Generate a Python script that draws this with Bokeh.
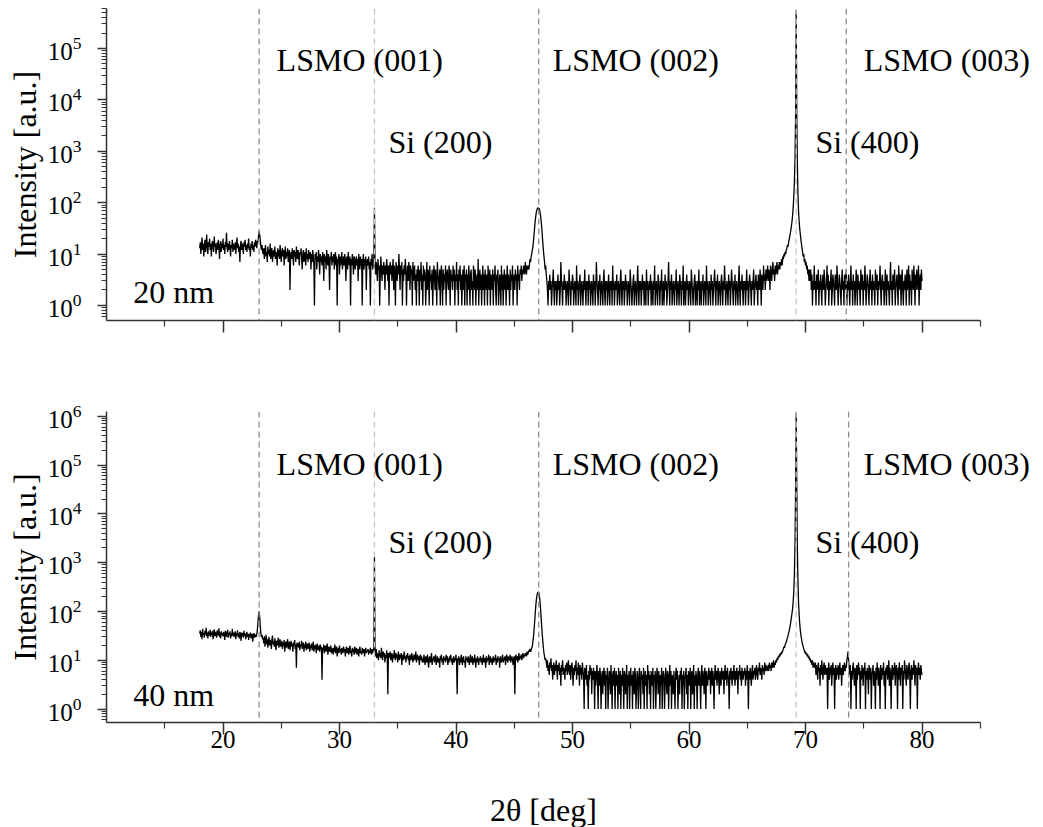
import numpy as np
from bokeh.plotting import figure
from bokeh.layouts import column
from bokeh.models import Span, Label, FixedTicker, LogTickFormatter, Range1d
from bokeh.embed import file_html
from bokeh.resources import INLINE

FONT = "Liberation Serif"
STEP = 0.05   # angular step of the tabulated intensities (deg)

# ---------------- 20 nm film: (start angle, intensities every 0.05 deg) ----------------
t20_a = (18.00, [13,17,10,15,21,12,16,9,14,19,11,15,24,13,10,17,14,20,12,16,
                 9,15,18,13,11,22,14,16,10,13,17,12,19,15,8,14,18,11,16,13,
                 20,12,15,10,17,14,26,13,11,16,12,18,14,9,15,13,19,11,16,14,
                 12,17,10,15,21,13,16,11,14,7,15,18,12,16,13,10,17,14,19,12,
                 15,11,16,13,20,12,14,9,16,13,18,12,15,11,17,14,19,16,13,18])
t20_lsmo001 = (23.00, [17,22,28,24,19,14,12,15,11])
t20_b = (23.45, [10,13,8,12,15,9,11,7,14,10,12,9,16,8,11,13,7,10,12,9,
                 14,8,11,10,6,13,9,12,8,15,10,7,11,13,9,12,6,10,14,8,
                 11,9,13,7,10,12,2,9,11,8,13,10,6,12,9,11,7,14,10,8,
                 12,9,6,11,10,13,8,5,10,12,7,9,11,6,13,8,10,7,12,9,
                 8,11,5,10,7,12,9,6,1,10,8,11,5,9,7,12,8,4,10,7,
                 9,6,11,8,3,10,7,9,5,12,8,6,10,7,2,9,8,11,6,9,
                 7,10,5,8,11,6,9,1,8,7,10,4,9,6,8,11,5,7,9,6,
                 10,7,3,8,9,5,11,7,6,9,1,8,6,10,7,4,9,8,5,7,
                 9,6,8,3,10,7,5,9,6,8,1,7,10,5,8,6,9,2,7,8,
                 6,9,5,7,1,8,6,10,5,7,8])
t20_si200 = (33.00, [80])
t20_c = (33.05, [6,4,7,5,3,8,5,6,1,4,9,5,3,6,4,7,5,2,6,4,
                 8,5,3,6,1,5,7,4,6,3,5,8,2,6,4,1,7,5,3,6,
                 4,10,5,2,6,4,7,1,5,3,6,4,8,5,1,4,6,3,7,5,
                 2,6,4,5,1,7,3,5,6,2,4,1,5,3,6,4,1,5,3,7,
                 2,4,1,6,3,5,4,1,3,7,2,5,4,1,6,3,4,2,5,1,
                 3,6,4,2,5,3,1,7,4,3,2,5,1,4,6,3,1,5,2,4,
                 3,6,1,4,5,3,2,6,4,1,5,3,4,2,6,3,5,1,4,3,
                 7,2,4,1,5,3,6,2,4,1,3,5,2,6,1,4,3,5,1,4,
                 2,6,3,1,4,5,2,3,1,6,4,2,5,1,3,4,2,8,1,3,
                 5,2,4,1,3,6,2,4,1,5,3,2,4,1,6,3,2,5,1,4,
                 3,2,5,1,4,3,6,2,1,4,3,5,1,2,4,3,1,6,2,4,
                 1,3,5,2,4,1,3,6,2,4,3,1,5,2,4,3,6,1,3,4,
                 2,5,3,4,1,6,3,4,2,5,4,6,3,5,4,6,5,4,7,5,
                 4,6,5,6,5])
t20_lsmo002 = (46.30, [6,8,7,9,10,12,14,18,24,33,45,55,66,72,78,80,74,78,68,58,
                       46,35,24,17,12,9,7,5,6,4])
t20_d = (47.80, [3,2,1,3,2,4,2,3,1,2,3,5,2,1,3,2,3,1,2,4,
                 2,3,1,2,7,3,2,1,3,2,4,2,3,1,2,3,2,1,5,3,
                 2,1,3,2,4,3,1,2,3,2,1,6,2,3,1,2,3,4,1,2,
                 3,2,1,3,2,5,2,1,3,2,3,1,4,2,3,1,2,3,2,1,
                 4,2,3,1,2,7,3,2,1,3,2,4,1,2,3,2,1,3,5,2,
                 1,3,2,3,1,2,4,2,1,3,2,3,1,6,2,3,1,2,3,2,
                 4,1,2,3,2,1,3,5,2,1,3,2,3,1,2,4,2,3,1,2,
                 3,2,1,5,3,2,1,2,3,4,1,2,3,2,1,3,6,2,1,3,
                 2,3,1,2,4,2,3,1,3,2,1,5,2,3,1,2,3,2,4,1,
                 3,2,1,3,2,6,1,2,3,2,1,4,3,2,1,3,2,5,1,2,
                 3,1,2,4,2,3,1,2,3,7,2,1,3,2,4,1,2,3,2,1,
                 3,2,5,1,2,3,2,1,4,3,2,1,3,2,6,1,2,3,1,2,
                 4,2,3,1,2,3,2,1,5,3,2,1,2,3,4,1,3,2,1,3,
                 2,5,1,3,2,1,3,2,4,1,2,3,2,1,6,2,3,1,2,3,
                 2,1,4,2,3,1,2,3,5,2,1,3,2,4,1,2,3,2,1,3,
                 4,2,1,3,2,6,3,1,2,3,2,1,4,2,3,1,2,5,3,2,
                 1,3,2,4,1,2,3,2,1,3,6,2,1,3,2,4,2,1,3,2,
                 3,1,2,5,2,3,1,2,4,3,2,1,3,2,3,5,1,2,3,4,
                 2,3,1,4,3,2,5,3,1,4,3,2,6,3,4,2,5,3,4,6,
                 3,5,4,2,6,4,3,5,7,4,5,3,6,4,5,7,4,6,5,7])
t20_si400_left = (67.80, [5,7,6,8,6,9,8,10,9,11,10,12,13,15,14,17,19,22,26,30,
                          36,45,60,85,140,260,700,5000])
t20_si400 = (69.20, [550000])
t20_si400_right = (69.25, [6000,600,150,70,45,32,25,20,16,13,11,9,10,7,8,6,7,5,6,4,
                           5,3,5])
t20_e = (70.40, [3,5,2,4,1,3,2,6,2,3,1,4,2,3,5,1,3,2,4,2,
                 1,3,4,2,5,3,1,2,3,6,2,4,1,3,2,3,5,1,2,4,
                 3,2,1,4,3,2,6,3,1,2,4,3,2,1,3,5,2,3,1,4,
                 2,3,5,1,3,2,4,2,1,3,6,2,3,1,4,2,3,1,2,5,
                 3,1,4,2,3,2,1,5,3,2,4,1,3,2,6,3,1,2,4,3,
                 2,1,3,5,2,3,1,4,2,3,2,1,5,3,2,4,1,3,2,3,
                 6,2,1,3,4,2,3,1,2,5,3,1,4,2,3,2,1,3,7,2,
                 3,1,4,2,3,5,1,2,3,4,2,1,6,3,2,4,1,3,5,2,
                 1,3,2,4,3,1,5,2,3,6,1,4,2,3,1,5,3,2,6,3,
                 1,4,2,5,3,2,6,1,3,4,2,5,3])

# ---------------- 40 nm film ----------------
t40_a = (18.00, [35,41,30,38,27,44,33,36,29,40,34,46,31,37,28,39,35,32,42,30,
                 37,33,40,27,35,43,31,38,34,29,41,36,32,45,30,37,28,39,33,36,
                 31,38,34,26,40,35,30,37,42,29,36,33,39,28,35,31,44,32,37,30,
                 34,39,27,36,32,41,30,35,28,38,33,25,37,31,36,29,40,32,35,27,
                 33,38,30,35,26,34,31,37,28,33,35,24,32,36,29,34,31,30])
t40_lsmo001 = (22.90, [34,42,60,85,100,78,50,36,30,33,27])
t40_b = (23.45, [28,22,31,19,26,33,21,27,18,25,30,20,26,23,17,27,32,21,24,19,
                 28,22,16,25,20,24,29,18,22,27,19,21,25,17,23,20,26,15,21,24,
                 18,22,27,17,20,24,16,21,25,19,22,15,23,20,26,17,21,7,23,19,
                 22,18,24,16,21,19,25,17,20,23,15,21,18,24,16,20,22,17,19,23,
                 15,20,18,22,16,19,24,15,20,17,21,14,19,22,16,18,20,15,21,17,
                 19,4,18,16,21,14,17,20,15,18,22,13,17,19,15,16,20,14,18,16,
                 13,18,15,21,14,17,19,12,16,18,14,20,15,17,13,18,16,14,19,15,
                 17,12,16,19,14,15,18,13,17,20,14,16,12,18,15,17,13,19,14,16,
                 18,13,15,17,12,16,19,14,15,13,18,16,14,17,12,15,18,14,16,15,
                 17,13,16,14,18,15,13,17,14,16,18])
t40_si200 = (33.00, [1300])
t40_c = (33.05, [15,12,17,11,14,13,10,16,12,14,11,18,13,10,15,12,14,9,13,11,
                 16,12,2,14,11,13,15,10,12,14,9,13,11,16,12,10,14,11,13,9,
                 15,12,10,13,11,14,8,12,13,10,15,11,12,9,13,11,14,10,12,8,
                 13,11,10,14,12,9,11,13,10,12,15,9,11,13,10,12,8,11,13,10,
                 12,9,11,9,13,10,8,12,11,9,13,10,7,11,12,9,10,14,8,11,
                 10,12,9,11,13,8,10,12,9,11,10,7,12,10,13,9,11,8,12,10,
                 11,9,13,10,12,8,11,9,12,10,13,9,11,8,10,12,9,11,10,13,
                 9,2,11,10,12,8,11,9,13,10,8,11,12,9,10,7,12,10,11,9,
                 12,10,8,11,13,9,10,12,8,11,9,13,10,7,11,9,12,10,8,11,
                 10,12,9,11,8,10,13,9,11,10,7,12,9,11,10,13,8,10,12,9,
                 11,8,10,12,9,11,10,13,8,11,9,12,10,11,7,12,10,9,11,13,
                 9,11,10,12,8,11,13,10,9,12,11,10,13,9,11,12,10,8,11,12,
                 2,11,13,10,12,9,11,14,10,12,11,13,10,12,14,11,13,12,14,13,
                 12,15,13,14,16,15,17])
t40_lsmo002 = (46.40, [15,16,18,19,24,30,42,60,90,130,175,215,240,248,245,215,170,120,80,52,
                       35,25,18,14,12,10,11])
t40_d = (47.75, [9,7,10,6,8,5,9,7,11,6,8,4,7,9,5,8,6,10,7,4,
                 8,6,9,5,7,3,8,6,10,5,7,6,4,8,6,9,5,7,10,6,
                 5,8,4,7,9,6,3,7,5,8,6,10,4,7,5,9,6,3,8,5,
                 7,4,9,6,5,1,7,6,4,8,3,5,1,6,4,8,5,7,2,6,
                 4,7,5,1,6,3,5,8,4,1,6,3,7,5,1,4,6,2,5,7,
                 3,6,1,5,4,7,1,3,6,5,2,8,4,1,5,6,3,7,1,4,
                 6,3,5,1,7,4,2,6,1,5,3,7,4,1,6,5,2,4,8,1,
                 5,3,6,1,4,7,3,5,1,6,4,2,7,5,1,3,6,4,1,5,
                 7,3,1,6,4,5,2,7,1,4,6,3,5,1,8,4,6,2,5,1,
                 6,4,3,7,1,5,4,6,1,3,7,5,2,6,4,1,5,3,7,1,
                 4,6,5,1,3,7,4,2,6,5,1,4,8,3,6,1,5,4,2,6,
                 3,1,5,7,4,6,1,3,5,2,6,4,7,1,5,3,6,1,4,5,
                 7,2,5,1,6,4,3,7,1,5,6,2,4,8,1,5,3,6,4,1,
                 5,7,3,6,4,1,5,8,3,6,4,2,7,5,1,6,4,3,5,7,
                 4,6,2,5,7,3,6,4,1,5,8,4,6,3,5,7,4,2,6,5,
                 3,7,5,4,6,2,5,8,4,6,3,7,5,4,1,6,4,7,5,3,
                 6,4,8,5,3,6,4,7,5,2,6,5,8,4,6,3,7,5,4,6,
                 5,7,3,6,4,8,5,1,6,4,7,5,3,6,8,4,6,5,7,4,
                 6,8,5,4,7,6,9,5,7,6,4,8,6,7,5,9,6,8,7,6,
                 7])
t40_si400_left = (66.80, [8,6,9,7,8,6,9,7,8,10,7,9,8,10,9,11,10,12,11,13,
                          12,14,13,15,14,16,17,19,18,21,22,24,26,29,32,36,40,46,54,64,
                          78,95,120,170,280,600,2500,30000])
t40_si400 = (69.20, [1200000])
t40_si400_right = (69.25, [40000,2000,450,160,90,58,42,34,28,24,21,19,17,16,14,15,13,14,12,13,
                           11,12,10,11,9,10,8,10,7,9,8])
t40_e = (70.80, [7,9,5,8,6,4,9,6,7,3,8,5,10,6,4,7,9,5,8,6,
                 5,7,1,6,9,4,7,5,8,3,6,9,5,7,1,6,8,4,7,5,
                 8,4,6,9,5,7,3,6,8,5,7,9,6,8,7,10,12,15,10,7,
                 5,8,1,6,4,7,9,5,3,7,6,1,8,4,6,9,5,7,1,6,
                 4,8,6,3,7,5,9,1,6,4,7,5,2,8,6,4,7,1,5,6,
                 8,3,6,5,1,7,4,9,6,3,7,5,1,8,6,4,7,5,9,3,
                 6,1,7,5,8,4,6,10,3,7,5,1,6,8,4,7,5,9,3,6,
                 8,5,1,7,4,9,6,3,7,5,8,1,6,4,10,7,5,3,8,6,
                 4,7,9,5,1,6,8,4,7,5,10,6,3,8,5,7,1,6,9,5,
                 7,4,8,6,5])

series_20nm = [t20_a, t20_lsmo001, t20_b, t20_si200, t20_c, t20_lsmo002, t20_d,
               t20_si400_left, t20_si400, t20_si400_right, t20_e]
series_40nm = [t40_a, t40_lsmo001, t40_b, t40_si200, t40_c, t40_lsmo002, t40_d,
               t40_si400_left, t40_si400, t40_si400_right, t40_e]

# reference peak positions (deg)
lsmo_lines_20 = [23.1, 47.1, 73.5]
lsmo_lines_40 = [23.1, 47.1, 73.7]
si_lines = [33.0, 69.2]
peak_labels = ["LSMO (001)", "Si (200)", "LSMO (002)", "Si (400)", "LSMO (003)"]
label_x = [24.6, 34.2, 48.3, 70.85, 75.0]
x_major = [20, 30, 40, 50, 60, 70, 80]
x_minor = [15, 25, 35, 45, 55, 65, 75, 85]
x_title = "2θ [deg]"

X_LO, X_AXIS_END = 10, 85
PX_PER_DEG = 11.65
X_HI = 10 + (1043 - 106) / PX_PER_DEG   # frame runs to the page edge so labels are not clipped


def build(segs):
    xs, ys = [], []
    for start, vals in segs:
        for k, v in enumerate(vals):
            xs.append(round(start + STEP * k, 3))
            ys.append(v)
    order = np.argsort(xs, kind="stable")
    return list(np.array(xs)[order]), list(np.array(ys, dtype=float)[order])


def make_panel(segs, lsmo_lines, y_lo, y_hi, n_dec, lab_y_lsmo, lab_y_si, film, film_y,
               height, border_top, border_bottom, show_x_labels):
    p = figure(width=1043, height=height, x_range=Range1d(X_LO, X_HI), y_range=Range1d(y_lo, y_hi),
               y_axis_type="log", output_backend="svg", toolbar_location=None,
               min_border_left=106, min_border_right=0, min_border_top=border_top,
               min_border_bottom=border_bottom)
    p.xgrid.visible = False
    p.ygrid.visible = False
    p.outline_line_color = None
    p.background_fill_color = "white"
    p.border_fill_color = "white"

    for ln in lsmo_lines:
        p.add_layout(Span(location=ln, dimension="height", line_color="#8c8c8c",
                          line_dash="6 4", line_width=1.3))
    for ln in si_lines:
        p.add_layout(Span(location=ln, dimension="height", line_color="#c4c4c4",
                          line_dash="6 4", line_width=1.3))

    xs, ys = build(segs)
    p.line(xs, ys, line_color="black", line_width=1.3)

    ys_lab = [lab_y_lsmo, lab_y_si, lab_y_lsmo, lab_y_si, lab_y_lsmo]
    for t, lx, ly in zip(peak_labels, label_x, ys_lab):
        p.add_layout(Label(x=lx, y=ly, text=t, text_font=FONT, text_font_size="32px",
                           text_baseline="middle", text_align="left", text_color="black"))
    p.add_layout(Label(x=12.3, y=film_y, text=film, text_font=FONT, text_font_size="32px",
                       text_baseline="middle", text_align="left", text_color="black"))

    # axes
    yt = [10.0 ** k for k in range(0, n_dec + 1)]
    ym = [m * 10.0 ** k for k in range(-1, n_dec + 1) for m in range(2, 10)
          if y_lo <= m * 10.0 ** k <= y_hi]
    p.yaxis.ticker = FixedTicker(ticks=yt, minor_ticks=ym)
    p.yaxis.formatter = LogTickFormatter()
    p.xaxis.ticker = FixedTicker(ticks=x_major, minor_ticks=x_minor)
    p.xaxis.bounds = (X_LO, X_AXIS_END)

    for ax in (p.xaxis[0], p.yaxis[0]):
        ax.axis_line_color = "#333333"
        ax.axis_line_width = 1.5
        ax.major_tick_line_color = "#333333"
        ax.minor_tick_line_color = "#333333"
        ax.major_tick_line_width = 1.5
        ax.minor_tick_line_width = 1.2
        ax.major_tick_in = 0
        ax.minor_tick_in = 0
        ax.major_label_text_font = FONT
        ax.major_label_text_font_size = "25px"
        ax.major_label_text_color = "black"
        ax.axis_label_text_font = FONT
        ax.axis_label_text_font_size = "32px"
        ax.axis_label_text_font_style = "normal"
        ax.axis_label_text_color = "black"
    p.xaxis.major_tick_out = 12
    p.xaxis.minor_tick_out = 6
    p.yaxis.major_tick_out = 9
    p.yaxis.minor_tick_out = 5
    p.yaxis.major_label_standoff = 16
    p.yaxis.axis_label = "Intensity [a.u.]"
    p.yaxis.axis_label_standoff = 2
    if show_x_labels:
        p.xaxis.major_label_standoff = -4
    else:
        p.xaxis.major_label_overrides = {t: "" for t in x_major}
        p.xaxis.major_label_text_font_size = "0px"
    return p


p1 = make_panel(series_20nm, lsmo_lines_20, 0.51, 6.0e5, 5, 5.9e4, 1.55e3, "20 nm", 1.85,
                height=360, border_top=8, border_bottom=40, show_x_labels=False)
p2 = make_panel(series_40nm, lsmo_lines_40, 0.53, 1.25e6, 6, 1.07e5, 2.7e3, "40 nm", 1.9,
                height=410, border_top=51, border_bottom=48, show_x_labels=True)

# x-axis title strip: same angular range as the panels (frames are aligned by the column),
# title centred under the drawn axis span 10..85 deg
p3 = figure(width=1043, height=57, x_range=Range1d(X_LO, X_HI), y_range=Range1d(0, 57),
            x_axis_type=None, y_axis_type=None, output_backend="svg", toolbar_location=None,
            min_border=0, min_border_left=106, min_border_right=0, min_border_top=0, min_border_bottom=0)
p3.outline_line_color = None
p3.grid.visible = False
p3.add_layout(Label(x=(X_LO + X_AXIS_END) / 2, y=18, text=x_title, text_font=FONT,
                    text_font_size="32px", text_align="center", text_baseline="middle",
                    text_color="black"))

layout = column(p1, p2, p3, spacing=0)
open("out.html", "w").write(file_html(layout, INLINE))
